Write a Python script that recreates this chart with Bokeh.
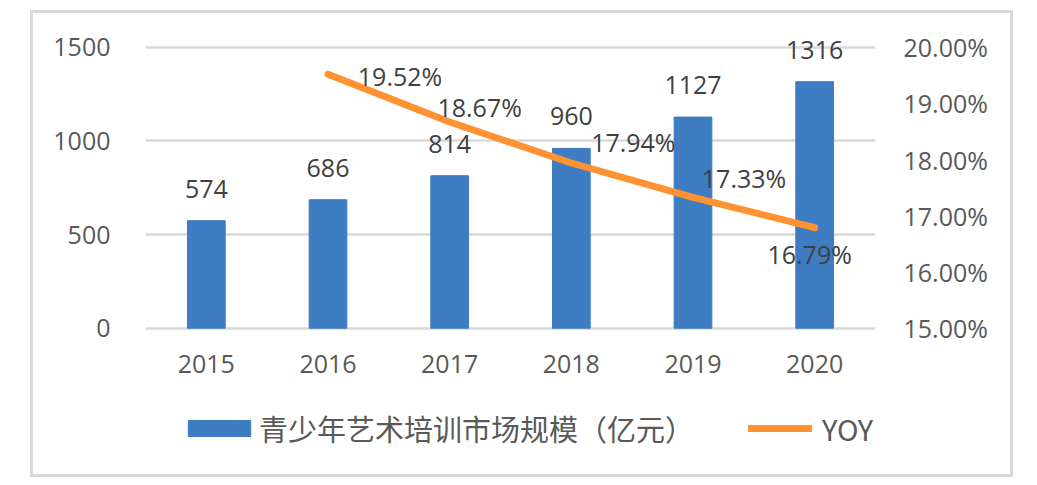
from bokeh.plotting import figure
from bokeh.models import (FactorRange, Range1d, LinearAxis, FixedTicker,
                          PrintfTickFormatter, Legend, LegendItem)
from bokeh.core.properties import value
from bokeh.embed import file_html
from bokeh.resources import INLINE

# ---- data ----
years = ["2015", "2016", "2017", "2018", "2019", "2020"]
market_size = [574, 686, 814, 960, 1127, 1316]
yoy_years = ["2016", "2017", "2018", "2019", "2020"]
yoy_pct = [19.52, 18.67, 17.94, 17.33, 16.79]
left_ticks = [0, 500, 1000, 1500]
right_ticks = [15, 16, 17, 18, 19, 20]
bar_series_name = "青少年艺术培训市场规模（亿元）"
line_series_name = "YOY"

# ---- label placement (screen offsets, styling only) ----
yoy_dx = [72, 30, 62, 51, -5]
yoy_dy = [2, -15, -21, -19, 26]

BLUE = "#3E7DC1"
ORANGE = "#FF9232"
GRID = "#D9D9D9"
TEXT = "#404040"
AXTXT = "#595959"
FONT = "Open Sans"

# layout
CANVAS_W, CANVAS_H = 983, 467
LEFT, FRAME_W = 112, 730
TOP, FRAME_H = 15, 442
PX_PER_UNIT = 281 / 1500.0
Y_END = 1600
Y_START = Y_END - FRAME_H / PX_PER_UNIT
R_SCALE = 5 / 1500.0

p = figure(x_range=FactorRange(*years), y_range=Range1d(Y_START, Y_END),
           width=CANVAS_W, height=CANVAS_H,
           min_border_left=LEFT, min_border_right=CANVAS_W - LEFT - FRAME_W,
           min_border_top=TOP, min_border_bottom=CANVAS_H - TOP - FRAME_H,
           output_backend="svg", toolbar_location=None)
p.styles = {"border": "3px solid #D9D9D9", "margin-left": "30px", "margin-top": "10px"}
p.outline_line_color = None
p.background_fill_color = "white"
p.border_fill_color = "white"

p.extra_y_ranges = {"yoy": Range1d(15 + Y_START * R_SCALE, 15 + Y_END * R_SCALE)}

# left axis
p.yaxis.ticker = FixedTicker(ticks=left_ticks)
p.yaxis.axis_line_color = None
p.yaxis.major_tick_line_color = None
p.yaxis.minor_tick_line_color = None
p.yaxis.major_tick_out = 0
p.yaxis.major_tick_in = 0
p.yaxis.major_label_standoff = 35
p.yaxis.major_label_text_font = FONT
p.yaxis.major_label_text_font_size = "25px"
p.yaxis.major_label_text_color = AXTXT

# right axis
ax_r = LinearAxis(y_range_name="yoy", ticker=FixedTicker(ticks=right_ticks),
                  formatter=PrintfTickFormatter(format="%.2f%%"))
ax_r.axis_line_color = None
ax_r.major_tick_line_color = None
ax_r.minor_tick_line_color = None
ax_r.major_tick_out = 0
ax_r.major_tick_in = 0
ax_r.major_label_standoff = 28
ax_r.major_label_text_font = FONT
ax_r.major_label_text_font_size = "25px"
ax_r.major_label_text_color = AXTXT
p.add_layout(ax_r, "right")

# x axis (drawn at value 0 inside the frame)
p.xaxis.fixed_location = 0
p.xaxis.axis_line_color = None
p.xaxis.major_tick_line_color = None
p.xaxis.minor_tick_line_color = None
p.xaxis.major_tick_out = 0
p.xaxis.major_tick_in = 0
p.xaxis.major_label_standoff = 27
p.xaxis.major_label_text_font = FONT
p.xaxis.major_label_text_font_size = "25px"
p.xaxis.major_label_text_color = AXTXT

p.xgrid.grid_line_color = None
p.ygrid.grid_line_color = GRID
p.ygrid.grid_line_width = 2.5

r_bar = p.vbar(x=years, top=market_size, width=0.31, fill_color=BLUE, line_color=BLUE)
r_line = p.line(x=yoy_years, y=yoy_pct, y_range_name="yoy", line_width=7,
                line_color=ORANGE, line_cap="round", line_join="round")

p.text(x=years, y=market_size, text=[str(v) for v in market_size],
       text_align="center", text_baseline="middle", y_offset=-32,
       text_font=value(FONT), text_font_size="25px", text_color=TEXT)

p.text(x=yoy_years, y=yoy_pct, text=[f"{v:.2f}%" for v in yoy_pct],
       x_offset=yoy_dx, y_offset=yoy_dy, y_range_name="yoy",
       text_align="center", text_baseline="middle",
       text_font=value(FONT), text_font_size="25px", text_color=TEXT)

def style_legend(lg, gw, gh, standoff):
    lg.glyph_width = gw
    lg.glyph_height = gh
    lg.label_standoff = standoff
    lg.label_text_font = "Noto Sans CJK SC"
    lg.label_text_font_size = "29px"
    lg.label_text_color = AXTXT
    lg.padding = 0
    lg.margin = 0
    lg.border_line_color = None
    lg.background_fill_alpha = 0

leg1 = Legend(items=[LegendItem(label=bar_series_name, renderers=[r_bar])], location=(35, 21))
style_legend(leg1, 78, 20, 1)
leg2 = Legend(items=[LegendItem(label=line_series_name, renderers=[r_line])], location=(603, 21))
style_legend(leg2, 64, 20, 10)
p.add_layout(leg1)
p.add_layout(leg2)

open("out.html", "w").write(file_html(p, INLINE))
